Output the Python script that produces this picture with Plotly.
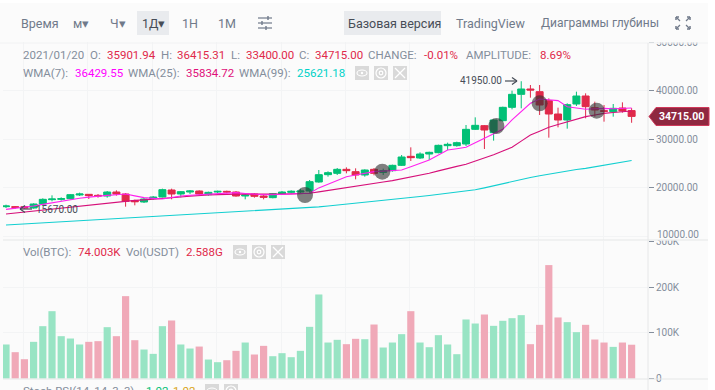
import plotly.graph_objects as go

opens = [16134,16134,16134,15860,16683,17574,17643,17780,18535,18672,18466,18329,19152,18741,17369,17094,17780,18123,19564,18741,19152,19358,18604,19152,19290,19152,18329,18741,18329,17986,18809,19084,19152,19358,21210,22720,22994,23817,23337,22651,23817,23200,23543,24640,26493,26150,26973,27247,28688,28688,29031,32049,32804,31363,33833,36577,39252,40350,39801,37949,35205,33970,37263,38909,36508,35891,35685,36440,35901.94]
highs = [16546,16271,16271,16820,17849,18466,18055,18741,19015,18741,18741,19358,19496,18947,17574,17918,18329,19838,19838,19358,19564,19496,19221,19427,19427,19358,18878,18878,18535,18947,19358,19496,19838,21622,23680,23406,24092,24229,24023,23817,24092,23954,24778,26767,28345,27316,27453,28894,29305,29511,32941,34519,32941,34107,36714,40007,41950,41173,41173,38429,36508,37400,39801,39458,37743,37057,37263,37606,36415.31]
lows = [15860,15722,15670,15722,16271,17232,17369,17643,18329,17712,17986,17986,18398,16134,16408,16889,17574,18055,17643,18055,18741,18535,18398,18878,18878,18192,17643,17986,17643,17849,18604,18878,18809,19015,21073,22308,22651,22994,21759,22308,22582,22651,23337,24503,25532,25944,25738,27110,27796,28482,28619,31912,28002,29717,33627,36165,36371,38566,35000,30334,32461,32186,36851,34313,34656,33627,34656,35480,33400.00]
closes = [16271,15997,15860,16683,17643,17712,17780,18604,18741,18398,18329,19152,18741,17232,17163,17712,18123,19633,18741,19221,19358,18741,19084,19290,19152,18329,18535,18261,18055,18809,19152,19290,19358,21279,22720,23131,23817,23543,22651,23680,22994,23543,24640,26355,26218,26973,27316,28756,28962,29305,32049,32872,31912,33970,36577,39252,40350,40144,37057,35205,33970,37126,38909,36714,36028,35754,36371,35822,34715.00]
volumes_k = [74.5,57.7,42.3,80.3,114.6,147.4,92.7,87.6,74.5,80.3,81.8,112.4,92.7,180.3,83.9,63.5,54,114.6,127,74.5,65.7,70,41.6,35.8,40.1,60.6,78.8,52.6,71.5,48.9,55.5,46.7,60.6,113.1,183.9,78.8,84.7,75.2,86.9,86.1,118.2,67.9,78.8,97.1,147.4,78.8,68.6,94.9,74.5,53.3,129.2,120.4,140.1,115.3,126.3,132.1,138.7,75.2,117.5,248.2,133.6,123.4,101.5,117.5,85.4,78.8,69.3,78.8,74]
wma7 = [15585,15800,16040,16270,16600,16950,17300,17640,17870,18100,18330,18460,18600,18740,18360,17990,17850,17710,18020,18330,18470,18600,18700,18800,18910,19015,18850,18700,18600,18600,18650,18700,18790,18880,20000,20800,21600,22310,22660,23000,23340,23450,23570,23680,24370,25050,25740,26770,27800,28070,28350,29270,30200,31090,32050,34000,35700,37400,38290,38120,37950,36710,36400,36170,36270,36370,36300,36350,36429.55]
wma25 = [14625,14830,15040,15242,15430,15620,15810,16000,16230,16460,16680,16890,17100,17300,17420,17540,17660,17780,17950,18120,18300,18470,18540,18610,18680,18740,18760,18720,18680,18680,18720,18770,18830,18880,19180,19490,19800,20110,20380,20650,20930,21210,21490,21860,22240,22620,23000,23500,24020,24430,24850,25460,26080,26830,27590,28350,29620,30880,31670,32460,33040,33630,34140,34660,35000,35340,35500,35680,35834.72]
wma99 = [12360,12470,12590,12700,12810,12920,13030,13140,13250,13360,13470,13580,13690,13800,13910,14020,14120,14230,14340,14450,14560,14670,14790,14900,15020,15130,15230,15320,15410,15500,15590,15680,15800,15930,16100,16280,16460,16640,16820,17000,17200,17390,17580,17780,18000,18220,18440,18660,18880,19120,19360,19600,20000,20450,20900,21350,21800,22150,22500,22850,23200,23500,23780,24020,24340,24660,24980,25300,25621.18]
signal_x = [32.5, 40.9, 53.3, 58.0, 64.2]
signal_y = [18535, 23330, 32735, 37400, 35884]
price_ticks = [10000, 20000, 30000, 40000, 50000]
price_labels = ["", "20000.00", "30000.00", "40000.00", "50000.00"]
vol_ticks = [0, 100, 200, 300]
vol_labels = ["0", "100K", "200K", "300K"]
grid_x = [1.9, 8.9, 15.9, 22.9, 29.9, 36.9, 43.9, 50.9, 57.9, 64.9]
idx = list(range(len(closes)))

GREEN, RED = "#02c076", "#e0294a"
GRAY = "#848e9c"
BG = "#fbfbfb"
W, H = 715, 404
X = lambda x: x / W
Y = lambda y: 1 - y / H

fig = go.Figure()
fig.add_trace(go.Bar(x=idx, y=volumes_k, xaxis="x2", yaxis="y2", width=0.78,
    marker=dict(color=["#98e4c4" if c >= o else "#f0a9b8" for o, c in zip(opens, closes)],
                line=dict(width=0)), hoverinfo="skip"))
fig.add_trace(go.Candlestick(x=idx, open=opens, high=highs, low=lows, close=closes, whiskerwidth=0,
    increasing=dict(line=dict(color=GREEN, width=1), fillcolor=GREEN),
    decreasing=dict(line=dict(color=RED, width=1), fillcolor=RED), hoverinfo="skip"))
for vals, col in ((wma99, "#12cfd0"), (wma25, "#d6107a"), (wma7, "#ff22ee")):
    fig.add_trace(go.Scatter(x=idx, y=vals, mode="lines", line=dict(color=col, width=1.1), hoverinfo="skip"))
fig.add_trace(go.Scatter(x=signal_x, y=signal_y, mode="markers", hoverinfo="skip",
    marker=dict(size=16, color="rgba(50,50,50,0.62)", line=dict(width=0))))

anns, shapes = [], []
def txt(x, y, s, color=GRAY, size=11.5, anchor="left", bold=False):
    anns.append(dict(x=X(x - (1 if anchor == "left" else 0)), y=Y(y), xref="paper", yref="paper",
                     text=f"<b>{s}</b>" if bold else s,
                     showarrow=False, xanchor=anchor, yanchor="middle", borderpad=0,
                     font=dict(family="Roboto", size=size, color=color)))
def rect(x0, y0, x1, y1, fill, layer="above", line=None):
    shapes.append(dict(type="rect", xref="paper", yref="paper", x0=X(x0), x1=X(x1), y0=Y(y0), y1=Y(y1),
                       fillcolor=fill, line=dict(width=0) if line is None else line, layer=layer))
def seg(x0, y0, x1, y1, color, width=1):
    shapes.append(dict(type="line", xref="paper", yref="paper", x0=X(x0), x1=X(x1), y0=Y(y0), y1=Y(y1),
                       line=dict(color=color, width=width), layer="above"))
def circ(cx, cy, r, color="#ffffff", width=1.2, fill=None):
    shapes.append(dict(type="circle", xref="paper", yref="paper", x0=X(cx-r), x1=X(cx+r), y0=Y(cy-r), y1=Y(cy+r),
                       line=dict(color=color, width=width), fillcolor=fill or "rgba(0,0,0,0)", layer="above"))
def icons(xs, y0):
    for k, x0 in enumerate(xs):
        rect(x0, y0, x0 + 14, y0 + 14, "#d9d9d9")
        cx, cy = x0 + 7, y0 + 7
        if k == 0:
            shapes.append(dict(type="circle", xref="paper", yref="paper", x0=X(cx-5), x1=X(cx+5), y0=Y(cy-3), y1=Y(cy+3),
                               line=dict(color="#fff", width=1.1), layer="above"))
            circ(cx, cy, 1.2, fill="#ffffff", width=0)
        elif k == 1:
            circ(cx, cy, 5)
            circ(cx, cy, 1.8)
        else:
            seg(cx-5, cy-5, cx+5, cy+5, "#fff", 1.3)
            seg(cx-5, cy+5, cx+5, cy-5, "#fff", 1.3)

# clip covers for axis labels, panel rules
rect(649, 0, W, 42.5, BG)
rect(649, 234, W, 240.5, BG)
rect(0, 0, W, 3, "#ffffff")
rect(708, 0, W, H, "#ffffff")
seg(0, 43, 708, 43, "#f1f2f3")
seg(3, 240, 708, 240, "#e6e7e8", 1.2)
seg(3, 379, 708, 379, "#e6e7e8", 1.2)
seg(648, 43, 648, H, "#e6e7e8", 1)
txt(657, 235, "10000.00", GRAY, 10)

# toolbar
rect(137, 11, 169, 35, "#e9ebee")
rect(344, 11, 441, 35, "#e9ebee")
TB = "#707a8a"
txt(21, 23, "Время", TB, 12.5)
txt(73, 23, "м▾", TB, 12.5)
txt(110, 23, "Ч▾", TB, 12.5)
txt(142, 23, "1Д▾", "#474d57", 12.5)
txt(182, 23, "1Н", TB, 12.5)
txt(218, 23, "1М", TB, 12.5)
txt(348, 23, "Базовая версия", "#474d57", 12.5)
txt(456, 23, "TradingView", TB, 12.5)
txt(541, 23, "Диаграммы глубины", TB, 12)
for yy, kx in ((18, 268), (23, 262), (28, 266)):
    seg(258, yy, 272, yy, TB, 1.2)
    seg(kx, yy - 2, kx, yy + 2, TB, 1.4)
for sx, sy, ex, ey in ((676, 17, 680, 21), (690, 17, 686, 21), (676, 29, 680, 25), (690, 29, 686, 25)):
    seg(sx, sy, ex, ey, TB, 1.3)
    seg(sx, sy, sx + (3 if ex > sx else -3), sy, TB, 1.5)
    seg(sx, sy, sx, sy + (3 if ey > sy else -3), TB, 1.5)

# header rows
for x, s, c in ((23, "2021/01/20", GRAY), (90, "O:", GRAY), (107, "35901.94", RED), (161, "H:", GRAY),
                (177, "36415.31", RED), (231, "L:", GRAY), (246, "33400.00", RED), (299, "C:", GRAY),
                (315, "34715.00", RED), (368, "CHANGE:", GRAY), (424, "-0.01%", RED),
                (466, "AMPLITUDE:", GRAY), (540, "8.69%", RED)):
    txt(x, 55, s, c)
for x, s, c in ((23, "WMA(7):", GRAY), (75, "36429.55", "#ff00ff"), (127.5, "WMA(25):", GRAY),
                (186, "35834.72", "#e0107a"), (239, "WMA(99):", GRAY), (297, "25621.18", "#00d2c8")):
    txt(x, 73, s, c)
icons((355, 374, 393), 66)
for x, s, c in ((23, "Vol(BTC):", GRAY), (78, "74.003K", RED), (126, "Vol(USDT)", GRAY), (186, "2.588G", RED)):
    txt(x, 252, s, c)
icons((233, 252, 271), 245)
for x, s, c in ((23, "Stoch RSI(14, 14, 3, 3)", GRAY), (146, "1.02", GREEN), (173, "1.02", "#d9a520")):
    txt(x, 391, s, c)
icons((205, 224), 384)

# extreme labels
txt(460, 81, "41950.00", "#474d57", 10)
seg(505, 81, 517, 81, "#474d57", 1.2); seg(517, 81, 512, 77.5, "#474d57", 1.2); seg(517, 81, 512, 84.5, "#474d57", 1.2)
txt(36, 209, "15670.00", "#474d57", 10)
seg(20, 209, 32, 209, "#474d57", 1.2); seg(20, 209, 25, 205.5, "#474d57", 1.2); seg(20, 209, 25, 212.5, "#474d57", 1.2)

# last price tag
shapes.append(dict(type="path", xref="paper", yref="paper", layer="above",
    path=f"M {X(649)} {Y(116.5)} L {X(656)} {Y(107.5)} L {X(709)} {Y(107.5)} L {X(709)} {Y(125.5)} L {X(656)} {Y(125.5)} Z",
    fillcolor="#8f2840", line=dict(color="#d0395a", width=1)))
txt(681, 116.5, "34715.00", "#ffffff", 10.5, "center", True)

axis_common = dict(showline=False, zeroline=False, gridcolor="#f3f4f5", gridwidth=1, automargin=False)
fig.update_layout(
    width=W, height=H, autosize=False, margin=dict(l=0, r=0, t=0, b=0),
    paper_bgcolor=BG, plot_bgcolor=BG, showlegend=False, boxmode="overlay", boxgap=0.24, boxgroupgap=0, bargap=0.2,
    xaxis=dict(domain=[X(3), X(648)], range=[-0.326, 69.78], anchor="y", tickmode="array", tickvals=grid_x,
               showticklabels=False, ticks="", rangeslider=dict(visible=False), **axis_common),
    yaxis=dict(domain=[Y(240), Y(42)], range=[9274, 50022], side="right", tickmode="array", tickvals=price_ticks,
               ticktext=price_labels, ticks="outside", ticklen=5, tickcolor=GRAY, anchor="x",
               tickfont=dict(family="Roboto", size=10, color=GRAY), **axis_common),
    xaxis2=dict(domain=[X(3), X(648)], range=[-0.326, 69.78], anchor="y2", tickmode="array", tickvals=grid_x,
                showticklabels=False, ticks="", **axis_common),
    yaxis2=dict(domain=[Y(379), Y(241)], range=[-1, 300.9], side="right", tickmode="array", tickvals=vol_ticks,
                ticktext=vol_labels, ticks="outside", ticklen=5, tickcolor=GRAY, anchor="x2",
                tickfont=dict(family="Roboto", size=10, color=GRAY), **axis_common),
    annotations=anns, shapes=shapes,
)
fig.write_html("out.html", config={"displayModeBar": False},
               post_script="document.body.style.margin='0';document.body.style.overflow='hidden';")
